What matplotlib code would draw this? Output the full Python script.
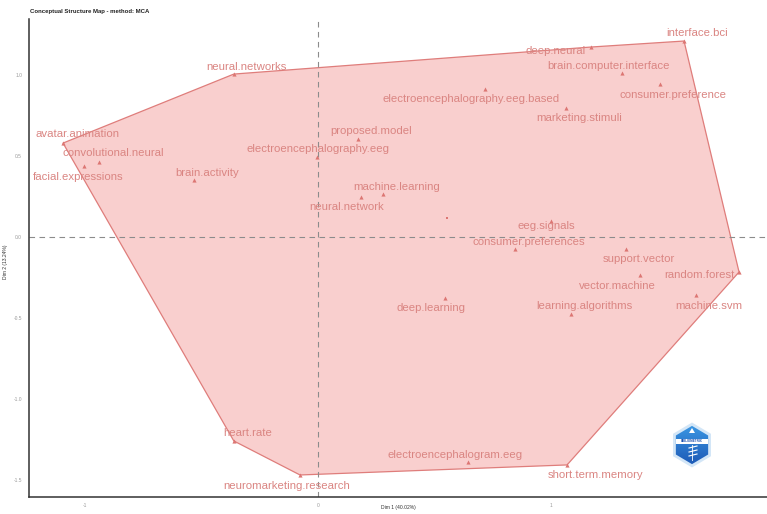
import numpy as np
import matplotlib
matplotlib.use("Agg")
import matplotlib.pyplot as plt
from matplotlib.patches import Polygon
from matplotlib.colors import LinearSegmentedColormap

plt.rcParams['font.family'] = ['Liberation Sans', 'DejaVu Sans']

# --- data -------------------------------------------------------------
words = [
    "interface.bci", "deep.neural", "brain.computer.interface",
    "consumer.preference", "electroencephalography.eeg.based",
    "marketing.stimuli", "neural.networks", "avatar.animation",
    "convolutional.neural", "facial.expressions", "brain.activity",
    "proposed.model", "electroencephalography.eeg", "machine.learning",
    "neural.network", "eeg.signals", "consumer.preferences",
    "support.vector", "vector.machine", "random.forest", "machine.svm",
    "deep.learning", "learning.algorithms", "heart.rate",
    "neuromarketing.research", "electroencephalogram.eeg",
    "short.term.memory",
]
dim1 = [1.571, 1.172, 1.305, 1.468, 0.717, 1.064, -0.361, -1.094,
        -0.940, -1.004, -0.532, 0.172, -0.004, 0.279, 0.185, 1.000,
        0.845, 1.322, 1.382, 1.807, 1.622, 0.545, 1.086, -0.361,
        -0.077, 0.644, 1.069]
dim2 = [1.210, 1.173, 1.012, 0.944, 0.914, 0.796, 1.006, 0.580,
        0.463, 0.438, 0.352, 0.605, 0.494, 0.265, 0.247, 0.099,
        -0.074, -0.074, -0.235, -0.216, -0.358, -0.377, -0.475, -1.259,
        -1.469, -1.389, -1.407]
# point whose label is not shown
extra_dim1 = [0.554]
extra_dim2 = [0.117]

x_ticks = [-1, 0, 1]
y_ticks = [-1.5, -1.0, -0.5, 0.0, 0.5, 1.0]

title = "Conceptual Structure Map - method: MCA"
xlabel = "Dim 1 (40.02%)"
ylabel = "Dim 2 (13.24%)"

# label offsets from their points, in pixels (x right, y up)
label_dx = [13, -36, -14, 13, -14, 13, 13, 14, 14, -6, 13, 13, 1, 14,
            -14, -5, 14, 13, -23, -40, 13, -14, 13, 14, -13, -13, 28]
label_dy = [8, -4, 7, -11, -10, -10, 7, 9, 9, -11, 7, 8, 8, 7, -10,
            -5, 7, -10, -11, -3, -11, -10, 8, 8, -11, 7, -10]

FILL = "#f9cfce"
EDGE = "#df7d7b"
TEXT = "#da8582"
MARK = "#dc7673"


def convex_hull(xs, ys):
    pts = sorted(set(zip(xs, ys)))

    def cross(o, a, b):
        return (a[0] - o[0]) * (b[1] - o[1]) - (a[1] - o[1]) * (b[0] - o[0])

    lower, upper = [], []
    for p in pts:
        while len(lower) >= 2 and cross(lower[-2], lower[-1], p) <= 0:
            lower.pop()
        lower.append(p)
    for p in reversed(pts):
        while len(upper) >= 2 and cross(upper[-2], upper[-1], p) <= 0:
            upper.pop()
        upper.append(p)
    return lower[:-1] + upper[:-1]


W, H = 767, 514
fig = plt.figure(figsize=(W / 100, H / 100), dpi=100)
ax = fig.add_axes([29 / W, 17 / H, (W - 29) / W, (497 - 19) / H])

ax.set_xlim(-1.240, 1.927)
ax.set_ylim(-1.605, 1.346)

# cluster hull
hull = convex_hull(dim1 + extra_dim1, dim2 + extra_dim2)
ax.add_patch(Polygon(hull, closed=True, facecolor=FILL, edgecolor=EDGE,
                     lw=0.9, zorder=2))

# reference lines through the origin
ax.axvline(0, color="#8c8c8c", lw=0.8, ls=(0, (5, 4)), zorder=2.5)
ax.axhline(0, color="#8c8c8c", lw=0.8, ls=(0, (5, 4)), zorder=2.5)

# word points
ax.scatter(dim1, dim2, marker="^", s=9, color=MARK, linewidths=0, zorder=3)
ax.scatter(extra_dim1, extra_dim2, marker="s", s=3, color=MARK,
           linewidths=0, zorder=3)

for w, x, y, dx, dy in zip(words, dim1, dim2, label_dx, label_dy):
    ax.annotate(w, (x, y), xytext=(dx, dy), textcoords="offset pixels",
                ha="center", va="center", fontsize=8.2, color=TEXT,
                zorder=4)

# axes styling
for s in ("top", "right"):
    ax.spines[s].set_visible(False)
for s in ("left", "bottom"):
    ax.spines[s].set_color("#333333")
    ax.spines[s].set_linewidth(1.1)
ax.set_xticks(x_ticks)
ax.set_yticks(y_ticks)
ax.set_xticklabels([str(t) for t in x_ticks])
ax.set_yticklabels([f"{t:.1f}" for t in y_ticks])
ax.tick_params(axis="x", length=0, labelsize=3.5, labelcolor="#9a9a9a", pad=4)
ax.tick_params(axis="y", length=0, labelsize=3.5, labelcolor="#9a9a9a", pad=5)

fig.text(398 / W, 1 - 508 / H, xlabel, fontsize=3.6, color="#333333",
         ha="center", va="center")
fig.text(6 / W, 1 - 262 / H, ylabel, fontsize=3.6, color="#333333",
         ha="center", va="center", rotation=90)
fig.text(30 / W, 1 - 11 / H, title, fontsize=4.3, fontweight="bold",
         va="center", ha="left", color="#222222")

# hexagonal badge
lax = fig.add_axes([673 / W, (H - 468) / H, 38 / W, 46 / H])
lax.set_xlim(-19, 19)
lax.set_ylim(-23, 23)
lax.axis("off")
outer = np.array([[0, 22.5], [-19, 11.2], [-19, -11.2], [0, -22.5],
                  [19, -11.2], [19, 11.2]])
lax.add_patch(Polygon(outer, closed=True, facecolor="#d3e6f7",
                      edgecolor="none", zorder=1))
inner = outer * 0.85
grad = np.linspace(0, 1, 64)[:, None] * np.ones((1, 8))
im = lax.imshow(grad, extent=(-19, 19, -23, 23), origin="upper",
                cmap=LinearSegmentedColormap.from_list(
                    "badge", ["#3d9be6", "#1b55b3"]), aspect="auto",
                zorder=2)
im.set_clip_path(Polygon(inner, closed=True, transform=lax.transData))
lax.add_patch(Polygon([[-16, 6], [16, 6], [16, 1], [-16, 1]],
                      facecolor="white", edgecolor="none", zorder=3))
lax.text(0, 3.5, "BIBLIOMETRIX", fontsize=2.2, color="#1a4fae",
         ha="center", va="center", fontweight="bold", zorder=4)
lax.add_patch(Polygon([[-3, 12], [3, 12], [0, 17]], facecolor="white",
                      edgecolor="none", zorder=3))
for yy in (-3, -7, -11):
    lax.plot([-3, 5], [yy, yy + 2], color="white", lw=0.8, zorder=3)
lax.plot([0, 0], [0, -15], color="white", lw=0.6, zorder=3)

fig.savefig("out.png", dpi=100, facecolor="white")
